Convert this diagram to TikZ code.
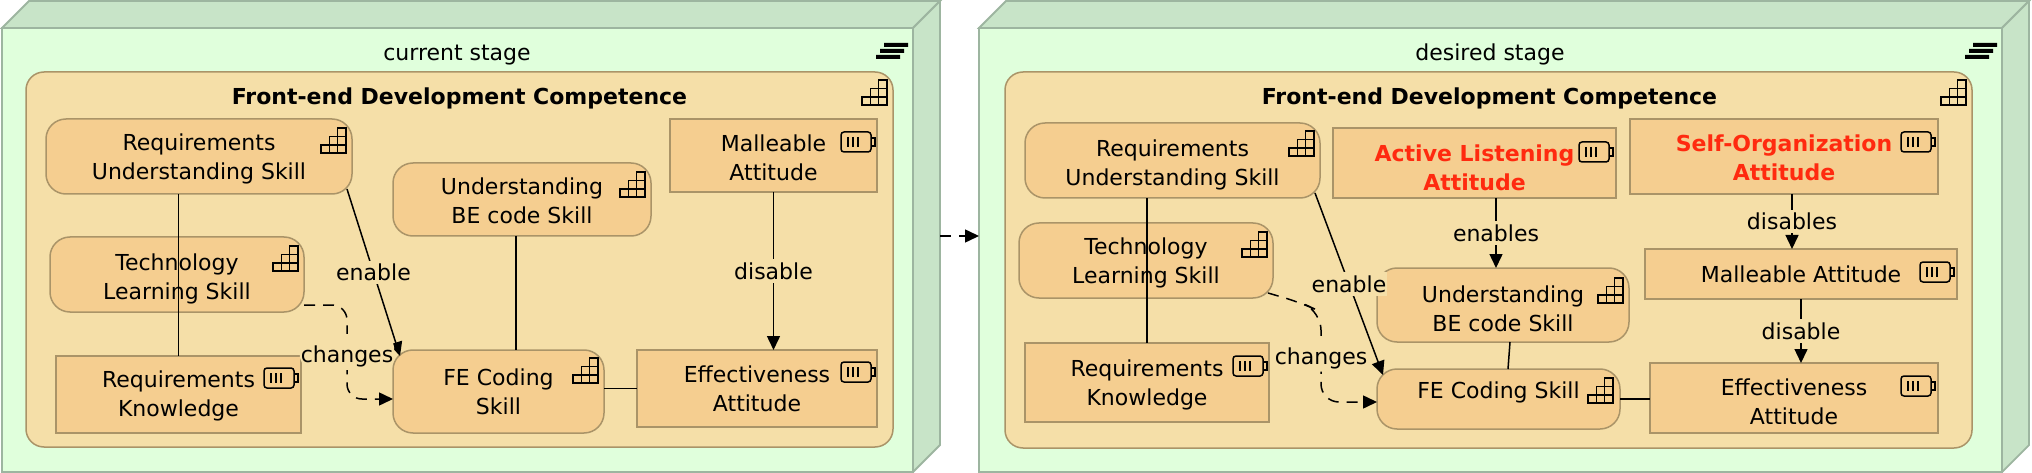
\documentclass[tikz,border=0pt]{standalone}
\usepackage{fontspec}
\setmainfont{DejaVu Sans}
\usetikzlibrary{arrows.meta}
\definecolor{stagefront}{HTML}{E0FFDC}
\definecolor{stageside}{HTML}{C8E4C8}
\definecolor{stageline}{HTML}{9DB5A0}
\definecolor{groupfill}{HTML}{F5DFA8}
\definecolor{boxfill}{HTML}{F5CE90}
\definecolor{boxline}{HTML}{AA9468}
\definecolor{newred}{HTML}{FF2A0F}
\tikzset{
  every node/.style={font=\fontsize{22}{29}\selectfont, align=center, inner sep=0pt, outer sep=0pt},
  lift/.style={execute at begin node={\rule{0pt}{#1}}},
  stagebox/.style={draw=stageline, fill=stagefront, line width=1.8pt},
  stageface/.style={draw=stageline, fill=stageside, line width=1.8pt},
  groupbox/.style={draw=boxline, fill=groupfill, line width=1.5pt, rounded corners=18pt},
  skillbox/.style={draw=boxline, fill=boxfill, line width=1.5pt, rounded corners=20pt},
  attbox/.style={draw=boxline, fill=boxfill, line width=1.5pt},
  conn/.style={line width=1.5pt},
  flow/.style={conn, -{Triangle[length=14pt,width=13pt]}},
  flowdash/.style={flow, dash pattern=on 11pt off 8pt},
  lbl/.style={fill=groupfill, inner xsep=1pt, inner ysep=3pt},
  stairs/.pic={
    \draw[line width=1.5pt] (-25,17) rectangle (-16.7,25) (-16.7,17) rectangle (-8.3,25) (-8.3,17) rectangle (0,25)
      (-16.7,8.3) rectangle (-8.3,17) (-8.3,8.3) rectangle (0,17) (-8.3,0) rectangle (0,8.3);
  },
  battery/.pic={
    \draw[line width=1.5pt, rounded corners=3pt] (-34,0) rectangle (-4,20);
    \draw[line width=1.5pt] (-4,6) -- (0,6) -- (0,14) -- (-4,14);
    \draw[line width=1.5pt] (-27,5) -- (-27,15) (-22,5) -- (-22,15) (-17,5) -- (-17,15);
  },
  layers/.pic={
    \fill (-24,0) rectangle (0,4) (-28,6) rectangle (-4,10) (-32,12) rectangle (-8,16);
  }
}
\begin{document}
\begin{tikzpicture}[x=1pt, y=-1pt]
\useasboundingbox (0,0) rectangle (2032,473);
% current stage
\node[stagebox, minimum width=911, minimum height=444] (cur) at (457.5,250) {};
\draw[stageface] (cur.north west) -- ++(27,-27) -- ++(911,0) -- (cur.north east) -- cycle;
\draw[stageface] (cur.north east) -- ++(27,-27) -- ++(0,444) -- (cur.south east) -- cycle;
\node[lift=19.3pt] (curtitle) at (457,53) {current stage};
\pic at (908,43) {layers};
\node[groupbox, minimum width=867, minimum height=375] (curgroup) at (459.5,259.5) {};
\node[lift=21.7pt, font=\fontsize{22}{29}\selectfont\bfseries] (curname) at (459.5,96) {Front-end Development Competence};
\pic at ([xshift=-6,yshift=-8]curgroup.north east) {stairs};
\node[skillbox, lift=51pt, minimum width=306, minimum height=75] (ru) at (199,156.5) {Requirements\\Understanding Skill};
\pic at ([xshift=-6,yshift=-9]ru.north east) {stairs};
\node[skillbox, lift=55pt, minimum width=254, minimum height=75] (tl) at (177,274.5) {Technology\\Learning Skill};
\pic at ([xshift=-6,yshift=-9]tl.north east) {stairs};
\node[attbox, lift=48.5pt, minimum width=245, minimum height=77] (rk) at (178.5,394.5) {Requirements\\Knowledge};
\pic at ([xshift=-3,yshift=-12]rk.north east) {battery};
\node[skillbox, lift=48.5pt, minimum width=258, minimum height=73] (be) at (522,199.5) {Understanding\\BE code Skill};
\pic at ([xshift=-6,yshift=-9]be.north east) {stairs};
\node[skillbox, minimum width=211, minimum height=83] (fe) at (498.5,391.5) {FE Coding\\Skill};
\pic at ([xshift=-6,yshift=-8]fe.north east) {stairs};
\node[attbox, lift=51pt, minimum width=207, minimum height=73] (ma) at (773.5,155.5) {Malleable\\Attitude};
\pic at ([xshift=-2,yshift=-13]ma.north east) {battery};
\node[attbox, minimum width=240, minimum height=77] (ef) at (757,388.5) {Effectiveness\\Attitude};
\pic at ([xshift=-2,yshift=-12]ef.north east) {battery};
\draw[conn] (rk.north) -- (rk.north |- ru.south);
\draw[conn] ([xshift=-6]be.south) -- ([xshift=17.5]fe.north);
\draw[conn] (fe.east |- ef.west) -- (ef.west);
\draw[flow] ([xshift=-5,yshift=5]ru.south east) -- ([xshift=7,yshift=-6]fe.north west) node[midway, lbl] (curenable) {enable};
\draw[flow] (ma.south) -- (ma.south |- ef.north) node[midway, lbl] (curdisable) {disable};
\draw[flowdash, rounded corners=15pt] ([yshift=7]tl.south east) -- (347,305) -- (347,399) node[midway, lbl, lift=25pt] (curchanges) {changes} -- ([yshift=-7.5]fe.west);
% desired stage
\node[stagebox, minimum width=1023, minimum height=444] (des) at (1490.5,250) {};
\draw[stageface] (des.north west) -- ++(27,-27) -- ++(1023,0) -- (des.north east) -- cycle;
\draw[stageface] (des.north east) -- ++(27,-27) -- ++(0,444) -- (des.south east) -- cycle;
\node[lift=19.3pt] (destitle) at (1490,53) {desired stage};
\pic at (1997,43) {layers};
\node[groupbox, minimum width=967, minimum height=376] (desgroup) at (1488.5,260) {};
\node[lift=21.7pt, font=\fontsize{22}{29}\selectfont\bfseries] (desname) at (1489.5,96) {Front-end Development Competence};
\pic at ([xshift=-6,yshift=-8]desgroup.north east) {stairs};
\node[skillbox, lift=54pt, minimum width=295, minimum height=75] (dru) at (1172.5,160.5) {Requirements\\Understanding Skill};
\pic at ([xshift=-6,yshift=-8]dru.north east) {stairs};
\node[skillbox, lift=51pt, minimum width=254, minimum height=75] (dtl) at (1146,260.5) {Technology\\Learning Skill};
\pic at ([xshift=-6,yshift=-9]dtl.north east) {stairs};
\node[attbox, lift=51pt, minimum width=244, minimum height=79] (drk) at (1147,382.5) {Requirements\\Knowledge};
\pic at ([xshift=-2,yshift=-13]drk.north east) {battery};
\node[attbox, lift=56pt, minimum width=283, minimum height=70] (dal) at (1474.5,163) {\textcolor{newred}{\bfseries Active Listening}\\\textcolor{newred}{\bfseries Attitude}};
\pic at ([xshift=-3,yshift=-14]dal.north east) {battery};
\node[attbox, lift=48.5pt, minimum width=308, minimum height=75] (dso) at (1784,156.5) {\textcolor{newred}{\bfseries Self-Organization}\\\textcolor{newred}{\bfseries Attitude}};
\pic at ([xshift=-3,yshift=-13]dso.north east) {battery};
\node[attbox, minimum width=312, minimum height=50] (dma) at (1801,274) {Malleable Attitude};
\pic at ([xshift=-3,yshift=-13]dma.north east) {battery};
\node[attbox, lift=54pt, minimum width=288, minimum height=70] (def) at (1794,398) {Effectiveness\\Attitude};
\pic at ([xshift=-3,yshift=-13]def.north east) {battery};
\node[skillbox, lift=54pt, minimum width=252, minimum height=74] (dbe) at (1503,305) {Understanding\\BE code Skill};
\pic at ([xshift=-6,yshift=-10]dbe.north east) {stairs};
\node[skillbox, minimum width=243, minimum height=60] (dfe) at (1498.5,399) {FE Coding Skill\\[-11pt]};
\pic at ([xshift=-7,yshift=-9]dfe.north east) {stairs};
\draw[conn] (drk.north) -- (drk.north |- dru.south);
\draw[conn] ([xshift=7]dbe.south) -- ([xshift=9.5]dfe.north);
\draw[conn] (dfe.east) -- (dfe.east -| def.west);
\draw[flow] ([xshift=-5,yshift=5]dru.south east) -- ([xshift=6,yshift=-6]dfe.north west) node[midway, lbl] (desenable) {enable};
\draw[flow] ([xshift=21.5]dal.south) -- ([xshift=21.5]dal.south |- dbe.north) node[midway, lbl] (desenables) {enables};
\draw[flow] ([xshift=8]dso.south) -- ([xshift=8]dso.south |- dma.north) node[midway, lbl] (desdisables) {disables};
\draw[flow] (dma.south) -- (dma.south |- def.north) node[midway, lbl] (desdisable) {disable};
\draw[flowdash, rounded corners=18pt] ([xshift=-5,yshift=5]dtl.south east) -- (1302,303) -- (1321,312) -- (1321,402) node[midway, lbl, lift=18.7pt] (deschanges) {changes} -- ([yshift=-3]dfe.west);
% between the stages
\coordinate (curedge) at (940,236);
\draw[flowdash] (curedge) -- (curedge -| des.west);
\end{tikzpicture}
\end{document}
